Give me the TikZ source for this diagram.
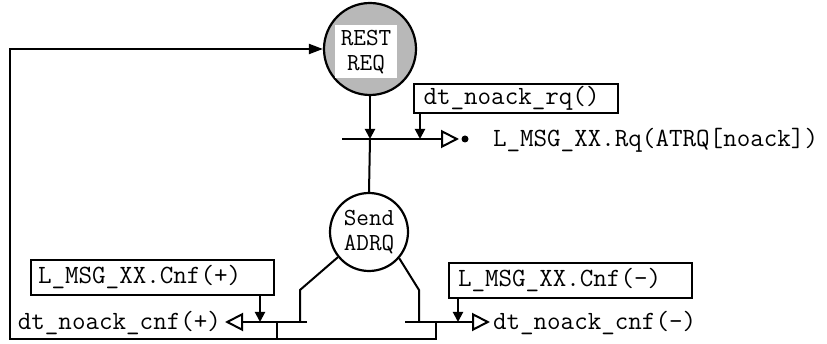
\documentclass[tikz,border=0pt]{standalone}
\usepackage{fontspec}
\usetikzlibrary{arrows.meta}
\tikzset{
  arr/.style={-{Triangle[length=10pt,width=10pt]}},
  bigarr/.style={-{Triangle[length=14pt,width=10pt]}},
  openarr/.style={-{Triangle[open,length=18pt,width=18pt,line width=2pt]}},
  msgbox/.style={draw, inner xsep=0pt, inner ysep=0pt, align=left},
  plain/.style={inner sep=0pt},
  twoline/.style={font=\ttfamily\fontsize{24.5}{24.5}\selectfont},
  state/.style={circle, draw, line width=2.2pt, inner sep=0pt, align=center}
}
\begin{document}
\begin{tikzpicture}[x=1pt,y=-1pt,line width=2pt,
  font=\ttfamily\fontsize{26.3}{26}\selectfont]
\useasboundingbox (0,0) rectangle (827,344);

% states
\node[state, fill=black!28, minimum size=92pt] (rest) at (370,49) {};
\node[fill=white, plain, twoline, minimum width=62pt, minimum height=53pt, align=center] (restlbl) at (366,52) {REST\\REQ};
\node[state, twoline, minimum size=78pt] (send) at (369,232) {Send\\ADRQ};

% message boxes
\node[msgbox, minimum width=204pt, minimum height=29pt, text width=197pt, anchor=north west] (rq) at (413,83) {\hspace*{6pt}dt\_noack\_rq()};
\node[msgbox, minimum width=243pt, minimum height=35pt, text width=243pt, anchor=north west] (cnfp) at (30,259) {\hspace*{7pt}L\_MSG\_XX.Cnf(+)};
\node[msgbox, minimum width=243pt, minimum height=35pt, text width=243pt, anchor=north west] (cnfm) at (448,262) {\hspace*{9pt}L\_MSG\_XX.Cnf(-)};

% output texts
\node[plain, anchor=west] (out1) at (492,140) {L\_MSG\_XX.Rq(ATRQ[noack])};
\node[plain, anchor=east] (out2) at (222,323) {dt\_noack\_cnf(+)};
\node[plain, anchor=west] (out3) at (492,323) {dt\_noack\_cnf(-)};
\node[circle, fill, plain, minimum size=7pt] (dot) at (465,139) {};

% coordinates
\coordinate (t1L) at (342,139);
\coordinate (t1R) at (459,139);
\coordinate (t2L) at (225,322);
\coordinate (t2R) at (307,322);
\coordinate (t3L) at (405,322);
\coordinate (t3R) at (490,322);
\coordinate (jL) at (277,322);
\coordinate (jR) at (436,322);
\coordinate (cL) at (10,339);

% top transition
\draw[arr] (rest.south) -- (rest.south |- t1L);
\draw (rest.south |- t1L) -- (send.north);
\draw[openarr] (t1L) -- (t1R);
\draw[arr] ([xshift=7pt]rq.south west) -- ([xshift=7pt]rq.south west |- t1L);

% left branch
\draw (send.219) -- (300,290) -- (300,322);
\draw[openarr] (t2R) -- (t2L);
\draw[arr] ([xshift=-15pt]cnfp.south east) -- ([xshift=-15pt]cnfp.south east |- t2L);
\draw (jL) -- (jL |- cL);

% right branch
\draw (send.319) -- (419,290) -- (419,322);
\draw[openarr] (t3L) -- (t3R);
\draw[arr] ([xshift=10pt]cnfm.south west) -- ([xshift=10pt]cnfm.south west |- t3L);

% loop back
\draw[bigarr] (jR) |- (cL) |- (rest.west);
\end{tikzpicture}
\end{document}
